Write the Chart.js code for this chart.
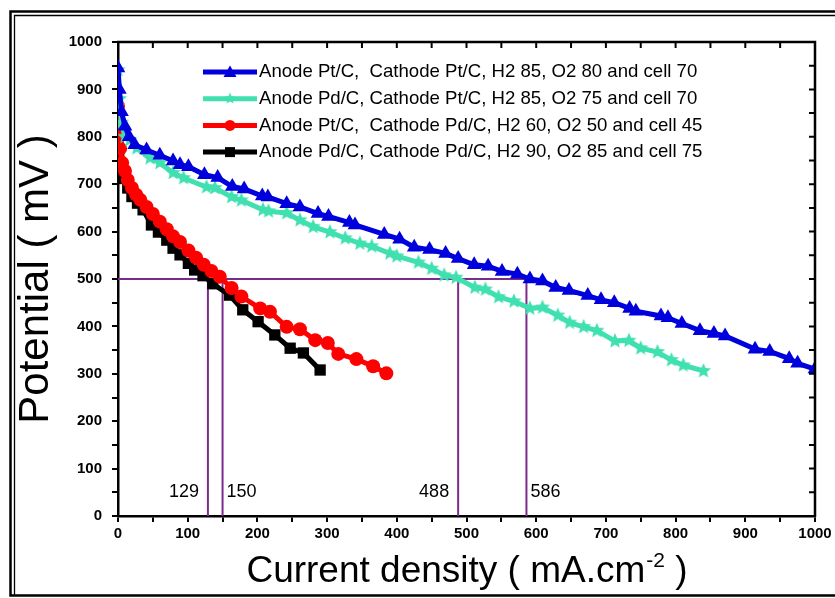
<!DOCTYPE html>
<html>
<head>
	<meta charset="utf-8">
	<script src="https://cdn.jsdelivr.net/npm/chart.js@4.4.0/dist/chart.umd.min.js"></script>
	<title>Polarization curves</title>
	<style>
		body { margin: 0; background: #fff; }
		canvas { display: block; }
	</style>
</head>
<body>
	<canvas id="myChart" width="835" height="598"></canvas>
	<script type="text/javascript">
		// current density (mA/cm2) and cell potential (mV) for each electrode pair
		const ptPtCurrent = [0, 2, 5, 10, 16, 24, 41, 60, 79, 89, 101, 124, 143, 164, 181, 207, 215, 242, 261, 287, 302, 332, 340, 382, 404, 425, 447, 470, 488, 511, 531, 551, 573, 591, 609, 628, 647, 674, 693, 712, 734, 743, 779, 789, 809, 835, 855, 871, 914, 935, 963, 975, 1000];
		const ptPtPotential = [945, 900, 853, 822, 800, 783, 772, 761, 749, 741, 737, 720, 714, 695, 690, 675, 673, 659, 652, 638, 632, 619, 614, 594, 584, 567, 562, 554, 543, 530, 527, 516, 510, 500, 496, 482, 476, 465, 456, 450, 438, 432, 422, 418, 406, 391, 385, 380, 352, 347, 332, 322, 310];

		const pdPtCurrent = [0, 2, 5, 10, 17, 27, 46, 60, 79, 94, 127, 139, 163, 177, 208, 216, 242, 261, 280, 304, 326, 347, 364, 390, 400, 431, 450, 468, 485, 512, 527, 546, 568, 591, 609, 631, 648, 668, 687, 713, 733, 750, 774, 794, 811, 840];
		const pdPtPotential = [941, 880, 830, 800, 793, 776, 755, 745, 724, 713, 694, 692, 673, 666, 646, 643, 639, 624, 610, 599, 586, 575, 569, 554, 548, 535, 522, 508, 503, 482, 478, 462, 453, 438, 440, 423, 408, 399, 391, 369, 370, 354, 346, 329, 318, 306];

		const ptPdCurrent = [0, 1, 3, 6, 10, 14, 20, 26, 32, 41, 50, 60, 70, 79, 89, 101, 112, 123, 134, 146, 163, 177, 204, 218, 242, 261, 283, 301, 316, 342, 366, 385];
		const ptPdPotential = [865, 800, 775, 745, 728, 709, 692, 678, 667, 652, 637, 621, 605, 590, 578, 560, 545, 530, 517, 505, 481, 463, 438, 431, 399, 394, 371, 365, 342, 331, 316, 301];

		const pdPdCurrent = [0, 1, 3, 5, 8, 14, 20, 28, 36, 48, 58, 70, 79, 89, 101, 110, 122, 136, 160, 179, 201, 225, 247, 266, 290];
		const pdPdPotential = [793, 760, 737, 722, 712, 692, 674, 660, 646, 614, 599, 582, 565, 551, 533, 519, 507, 490, 466, 435, 410, 382, 354, 344, 308];

		const seriesLabels = [
			'Anode Pt/C,  Cathode Pt/C, H2 85, O2 80 and cell 70',
			'Anode Pd/C, Cathode Pt/C, H2 85, O2 75 and cell 70',
			'Anode Pt/C,  Cathode Pd/C, H2 60, O2 50 and cell 45',
			'Anode Pd/C, Cathode Pd/C, H2 90, O2 85 and cell 75'
		];

		const markCurrents = [129, 150, 488, 586];
		const markPotential = 500;

		const FONT = "'Liberation Sans', Arial, sans-serif";
		const guideColor = '#7b2b8c';

		function starImage(color, r) {
			const c = document.createElement('canvas');
			const s = Math.ceil(r * 2) + 2;
			c.width = c.height = s;
			const g = c.getContext('2d');
			g.fillStyle = color;
			g.beginPath();
			for (let i = 0; i < 10; i++) {
				const rad = i % 2 ? r * 0.45 : r;
				const a = -Math.PI / 2 + i * Math.PI / 5;
				g.lineTo(s / 2 + rad * Math.cos(a), s / 2 + rad * Math.sin(a));
			}
			g.closePath();
			g.fill();
			return c;
		}

		function series(label, xs, ys, color, style, radius) {
			return {
				label: label,
				data: xs.map((x, i) => ({ x: x, y: ys[i] })),
				borderColor: color,
				backgroundColor: color,
				borderWidth: 5,
				pointStyle: style,
				pointRadius: radius,
				pointHoverRadius: radius,
				pointBorderWidth: 0,
				tension: 0
			};
		}

		const cyan = '#40e0b0';
		const datasets = [
			series(seriesLabels[0], ptPtCurrent, ptPtPotential, '#0000dd', 'triangle', 8.5),
			series(seriesLabels[1], pdPtCurrent, pdPtPotential, cyan, starImage(cyan, 8), 8),
			series(seriesLabels[2], ptPdCurrent, ptPdPotential, '#ff0000', 'circle', 7),
			series(seriesLabels[3], pdPdCurrent, pdPdPotential, '#000000', 'rect', 8)
		];

		// guide lines at 500 mV
		const guideLine = (pts) => ({
			guide: true,
			data: pts,
			borderColor: guideColor,
			borderWidth: 2,
			pointRadius: 0,
			pointHoverRadius: 0
		});
		datasets.push(guideLine([{ x: 0, y: markPotential }, { x: Math.max(...markCurrents), y: markPotential }]));
		markCurrents.forEach(c => {
			datasets.push(guideLine([{ x: c, y: 0 }, { x: c, y: markPotential }]));
		});

		function drawMarker(ctx, style, x, y, color) {
			ctx.fillStyle = color;
			ctx.beginPath();
			if (style === 'triangle') {
				ctx.moveTo(x, y - 6.5);
				ctx.lineTo(x + 6.5, y + 5);
				ctx.lineTo(x - 6.5, y + 5);
				ctx.closePath();
				ctx.fill();
			} else if (style === 'circle') {
				ctx.arc(x, y, 5.5, 0, Math.PI * 2);
				ctx.fill();
			} else if (style === 'rect') {
				ctx.fillRect(x - 5, y - 5, 10, 10);
			} else {
				const w = style.width * 0.75, h = style.height * 0.75;
				ctx.drawImage(style, x - w / 2, y - h / 2, w, h);
			}
		}

		const framePlugin = {
			id: 'frame',
			beforeDraw(chart) {
				const { ctx, width, height } = chart;
				ctx.save();
				ctx.fillStyle = '#fff';
				ctx.fillRect(0, 0, width, height);
				ctx.strokeStyle = '#000';
				ctx.lineWidth = 2.5;
				ctx.beginPath();
				ctx.moveTo(width, 11.5);
				ctx.lineTo(10.5, 11.5);
				ctx.lineTo(10.5, height - 2.5);
				ctx.lineTo(width, height - 2.5);
				ctx.stroke();
				ctx.lineWidth = 1.3;
				ctx.beginPath();
				ctx.moveTo(width, 15.5);
				ctx.lineTo(14.5, 15.5);
				ctx.lineTo(14.5, height - 2.5);
				ctx.stroke();
				ctx.restore();
			},
			afterDraw(chart) {
				const { ctx } = chart;
				const { left, right, top, bottom } = chart.chartArea;
				const xs = chart.scales.x, ys = chart.scales.y;
				ctx.save();

				// top and right axes with inward ticks
				ctx.strokeStyle = '#000';
				ctx.lineWidth = 2.5;
				ctx.beginPath();
				ctx.moveTo(left - 1, top);
				ctx.lineTo(right, top);
				ctx.lineTo(right, bottom + 1);
				ctx.stroke();
				ctx.lineWidth = 2;
				ctx.beginPath();
				xs.ticks.forEach(t => {
					const px = xs.getPixelForValue(t.value);
					ctx.moveTo(px, top);
					ctx.lineTo(px, top + 6);
				});
				ys.ticks.forEach(t => {
					const py = ys.getPixelForValue(t.value);
					ctx.moveTo(right, py);
					ctx.lineTo(right - 6, py);
				});
				ctx.stroke();

				// current labels beside the guide lines
				ctx.fillStyle = '#000';
				ctx.font = '18px ' + FONT;
				ctx.textBaseline = 'middle';
				markCurrents.forEach((c, i) => {
					const px = xs.getPixelForValue(c);
					const py = ys.getPixelForValue(50);
					if (i % 2 === 0) {
						ctx.textAlign = 'right';
						ctx.fillText(String(c), px - 9, py);
					} else {
						ctx.textAlign = 'left';
						ctx.fillText(String(c), px + 4, py);
					}
				});

				// legend: line with marker, then label
				ctx.textAlign = 'left';
				let rowY = top + 30;
				chart.data.datasets.filter(d => !d.guide).forEach(d => {
					ctx.strokeStyle = d.borderColor;
					ctx.lineWidth = 5;
					ctx.beginPath();
					ctx.moveTo(203, rowY);
					ctx.lineTo(257, rowY);
					ctx.stroke();
					drawMarker(ctx, d.pointStyle, 230, rowY, d.borderColor);
					ctx.fillStyle = '#000';
					ctx.font = '18.6px ' + FONT;
					ctx.fillText(d.label, 259, rowY);
					rowY += 26.7;
				});

				// x axis title with superscript
				const main = 'Current density ( mA.cm';
				const sup = '-2';
				const tail = ' )';
				ctx.textBaseline = 'alphabetic';
				ctx.font = '37px ' + FONT;
				const w1 = ctx.measureText(main).width;
				const w3 = ctx.measureText(tail).width;
				ctx.font = '21px ' + FONT;
				const w2 = ctx.measureText(sup).width;
				let x0 = (left + right) / 2 - (w1 + w2 + w3) / 2;
				const base = 582;
				ctx.font = '37px ' + FONT;
				ctx.fillText(main, x0, base);
				ctx.font = '21px ' + FONT;
				ctx.fillText(sup, x0 + w1 + 1, base - 15);
				ctx.font = '37px ' + FONT;
				ctx.fillText(tail, x0 + w1 + w2 + 1, base);
				ctx.restore();
			}
		};

		const tickFont = { family: FONT, size: 15, weight: 'bold' };

		const ctx = document.getElementById('myChart');
		const myChart = new Chart(ctx, {
			type: 'line',
			data: { datasets: datasets },
			options: {
				responsive: false,
				animation: false,
				layout: { padding: { top: 42, right: 20, left: 0, bottom: 0 } },
				plugins: {
					legend: { display: false },
					tooltip: { enabled: false }
				},
				scales: {
					x: {
						type: 'linear',
						min: 0,
						max: 1000,
						border: { color: '#000', width: 2.5 },
						grid: { drawOnChartArea: false, color: '#000', lineWidth: 2, tickLength: 6 },
						ticks: {
							stepSize: 50,
							autoSkip: false,
							maxRotation: 0,
							padding: 3,
							color: '#000',
							font: tickFont,
							callback: v => v % 100 === 0 ? v : ''
						},
						afterFit: s => { s.height = 82; }
					},
					y: {
						min: 0,
						max: 1000,
						border: { color: '#000', width: 2.5 },
						grid: { drawOnChartArea: false, color: '#000', lineWidth: 2, tickLength: 6 },
						ticks: {
							stepSize: 50,
							autoSkip: false,
							padding: 10,
							color: '#000',
							font: tickFont,
							callback: v => v % 100 === 0 ? v : ''
						},
						title: {
							display: true,
							text: 'Potential ( mV )',
							color: '#000',
							font: { family: FONT, size: 42 },
							padding: { top: 11 }
						},
						afterFit: s => { s.width = 118; }
					}
				}
			},
			plugins: [framePlugin]
		});
	</script>
</body>
</html>
